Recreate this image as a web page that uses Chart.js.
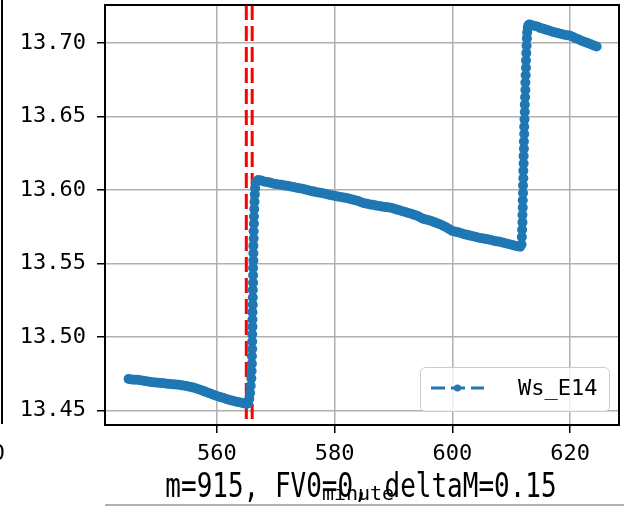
<!DOCTYPE html>
<html>
<head>
<meta charset="utf-8">
<script src="https://cdn.jsdelivr.net/npm/chart.js@4/dist/chart.umd.min.js"></script>
<style>
  html, body { margin: 0; padding: 0; background: #fff; }
  canvas { display: block; }
</style>
</head>
<body>
<canvas id="myChart" width="624" height="508"></canvas>
<script>
// minutes and Ws_E14 values
var minutes = [
  545.0, 545.5, 546.0, 546.5, 547.0, 547.5, 548.0, 548.5, 549.0, 549.5,
  550.0, 550.5, 551.0, 551.5, 552.0, 552.5, 553.0, 553.5, 554.0, 554.5,
  555.0, 555.5, 556.0, 556.5, 557.0, 557.5, 558.0, 558.5, 559.0, 559.5,
  560.0, 560.5, 561.0, 561.5, 562.0, 562.5, 563.0, 563.5, 564.0, 564.5,
  565.0,
  565.3, 565.5, 565.65, 565.75, 565.85, 565.9, 565.95, 565.95, 566.0, 566.0,
  566.0, 566.05, 566.05, 566.05, 566.1, 566.1, 566.1, 566.15, 566.15, 566.15,
  566.2, 566.2, 566.2, 566.25, 566.25, 566.3, 566.3, 566.35, 566.4, 566.45,
  566.5, 566.6,
  567.0, 567.5, 568.0, 568.5, 569.0, 569.5, 570.0, 570.5, 571.0, 571.5,
  572.0, 572.5, 573.0, 573.5, 574.0, 574.5, 575.0, 575.5, 576.0, 576.5,
  577.0, 577.5, 578.0, 578.5, 579.0, 579.5, 580.0, 580.5, 581.0, 581.5,
  582.0, 582.5, 583.0, 583.5, 584.0, 584.5, 585.0, 585.5, 586.0, 586.5,
  587.0, 587.5, 588.0, 588.5, 589.0, 589.5, 590.0, 590.5, 591.0, 591.5,
  592.0, 592.5, 593.0, 593.5, 594.0, 594.5, 595.0, 595.5, 596.0, 596.5,
  597.0, 597.5, 598.0, 598.5, 599.0, 599.5, 600.0, 600.5, 601.0, 601.5,
  602.0, 602.5, 603.0, 603.5, 604.0, 604.5, 605.0, 605.5, 606.0, 606.5,
  607.0, 607.5, 608.0, 608.5, 609.0, 609.5, 610.0, 610.5, 611.0, 611.5,
  611.75, 611.8, 611.85, 611.9, 611.9, 611.95, 611.95, 612.0, 612.0, 612.05,
  612.05, 612.1, 612.1, 612.15, 612.15, 612.2, 612.2, 612.25, 612.3, 612.3,
  612.35, 612.4, 612.4, 612.45, 612.5, 612.5, 612.55, 612.6, 612.65, 612.7,
  612.8, 612.9,
  613.1,
  613.5, 614.0, 614.5, 615.0, 615.5, 616.0, 616.5, 617.0, 617.5, 618.0,
  618.5, 619.0, 619.5, 620.0, 620.5, 621.0, 621.5, 622.0, 622.5, 623.0,
  623.5, 624.0, 624.5
];
var wsE14 = [
  13.4715, 13.4713, 13.4711, 13.4710, 13.4707, 13.4704, 13.4701, 13.4697, 13.4694, 13.4692,
  13.4690, 13.4689, 13.4687, 13.4684, 13.4682, 13.4680, 13.4678, 13.4676, 13.4673, 13.4670,
  13.4667, 13.4662, 13.4657, 13.4651, 13.4644, 13.4637, 13.4630, 13.4622, 13.4615, 13.4607,
  13.4600, 13.4594, 13.4588, 13.4581, 13.4575, 13.4570, 13.4565, 13.4560, 13.4556, 13.4551,
  13.4546,
  13.455, 13.458, 13.462, 13.467, 13.472, 13.477, 13.482, 13.487, 13.492, 13.497,
  13.502, 13.507, 13.512, 13.517, 13.522, 13.527, 13.532, 13.537, 13.542, 13.547,
  13.552, 13.557, 13.562, 13.567, 13.572, 13.577, 13.582, 13.587, 13.592, 13.597,
  13.601, 13.605,
  13.6068, 13.6064, 13.6058, 13.6054, 13.6050, 13.6044, 13.6040, 13.6038, 13.6035, 13.6031,
  13.6028, 13.6024, 13.6020, 13.6016, 13.6012, 13.6008, 13.6003, 13.5998, 13.5993, 13.5989,
  13.5985, 13.5982, 13.5978, 13.5973, 13.5968, 13.5964, 13.5960, 13.5956, 13.5952, 13.5949,
  13.5945, 13.5940, 13.5935, 13.5930, 13.5925, 13.5917, 13.5910, 13.5906, 13.5902, 13.5899,
  13.5895, 13.5891, 13.5888, 13.5885, 13.5882, 13.5879, 13.5875, 13.5868, 13.5862, 13.5856,
  13.5850, 13.5844, 13.5838, 13.5831, 13.5825, 13.5815, 13.5805, 13.5800, 13.5795, 13.5788,
  13.5780, 13.5772, 13.5765, 13.5755, 13.5745, 13.5733, 13.5722, 13.5717, 13.5712, 13.5706,
  13.5700, 13.5695, 13.5690, 13.5685, 13.5680, 13.5676, 13.5672, 13.5668, 13.5665, 13.5660,
  13.5655, 13.5651, 13.5648, 13.5643, 13.5638, 13.5633, 13.5628, 13.5623, 13.5618, 13.5614,
  13.563, 13.568, 13.573, 13.578, 13.583, 13.588, 13.593, 13.598, 13.603, 13.608,
  13.613, 13.618, 13.623, 13.628, 13.633, 13.638, 13.643, 13.648, 13.653, 13.658,
  13.663, 13.668, 13.673, 13.678, 13.683, 13.688, 13.693, 13.698, 13.703, 13.707,
  13.710, 13.712,
  13.7125,
  13.7120, 13.7115, 13.7110, 13.7100, 13.7095, 13.7088, 13.7082, 13.7075, 13.7070, 13.7065,
  13.7060, 13.7055, 13.7052, 13.7048, 13.7040, 13.7030, 13.7022, 13.7012, 13.7005, 13.6998,
  13.6990, 13.6982, 13.6975
];

var xTicks = [560, 580, 600, 620];
var yTicks = [13.45, 13.50, 13.55, 13.60, 13.65, 13.70];
var markLines = [565, 566];   // red dashed verticals
var seriesName = 'Ws_E14';
var xLabel = 'minute';
var titleText = 'm=915, FV0=0, deltaM=0.15';

var blue = '#1f77b4';
var monoFont = "'DejaVu Sans Mono', monospace";

var points = minutes.map(function (m, i) { return { x: m, y: wsE14[i] }; });

var extras = {
  id: 'extras',
  beforeDatasetsDraw: function (chart) {
    var ctx = chart.ctx, area = chart.chartArea, xs = chart.scales.x;
    ctx.save();
    ctx.strokeStyle = '#ff0000';
    ctx.lineWidth = 3;
    ctx.setLineDash([15, 6]);
    markLines.forEach(function (v) {
      var px = xs.getPixelForValue(v);
      ctx.beginPath();
      ctx.moveTo(px, area.top);
      ctx.lineTo(px, area.bottom);
      ctx.stroke();
    });
    ctx.restore();
  },
  afterDraw: function (chart) {
    var ctx = chart.ctx, area = chart.chartArea;
    ctx.save();
    // frame
    ctx.strokeStyle = '#000';
    ctx.lineWidth = 2;
    ctx.setLineDash([]);
    ctx.strokeRect(area.left, area.top, area.right - area.left, area.bottom - area.top);

    // legend
    var lx = 420, ly = 367, lw = 189, lh = 44;
    ctx.beginPath();
    ctx.roundRect(lx + 0.5, ly + 0.5, lw, lh, 5);
    ctx.fillStyle = 'rgba(255,255,255,0.8)';
    ctx.fill();
    ctx.strokeStyle = '#cccccc';
    ctx.lineWidth = 1;
    ctx.stroke();
    var sy = ly + 21;
    ctx.strokeStyle = blue;
    ctx.lineWidth = 3;
    ctx.setLineDash([14, 6]);
    ctx.beginPath();
    ctx.moveTo(431, sy);
    ctx.lineTo(484, sy);
    ctx.stroke();
    ctx.setLineDash([]);
    ctx.fillStyle = blue;
    ctx.beginPath();
    ctx.arc(457.5, sy, 3.5, 0, Math.PI * 2);
    ctx.fill();
    ctx.fillStyle = '#000';
    ctx.font = '22px ' + monoFont;
    ctx.textAlign = 'left';
    ctx.textBaseline = 'middle';
    ctx.fillText(seriesName, 518, sy + 1);

    // texts under the axis (title of the subplot below, drawn a bit taller)
    ctx.textAlign = 'center';
    ctx.textBaseline = 'alphabetic';
    ctx.save();
    ctx.translate(361, 497);
    ctx.scale(1, 1.3);
    ctx.font = '26px ' + monoFont;
    ctx.fillText(titleText, 0, 0);
    ctx.restore();
    ctx.font = '20px ' + monoFont;
    ctx.fillText(xLabel, 358, 500);

    // edges of the neighbouring subplots
    ctx.textAlign = 'right';
    ctx.font = '22px ' + monoFont;
    ctx.fillText('0', 5, 460);
    ctx.strokeStyle = '#000';
    ctx.lineWidth = 2;
    ctx.beginPath();
    ctx.moveTo(2, 0);
    ctx.lineTo(2, 424);
    ctx.stroke();
    ctx.strokeStyle = '#b0b0b0';
    ctx.beginPath();
    ctx.moveTo(105, 505);
    ctx.lineTo(624, 505);
    ctx.stroke();
    ctx.restore();
  }
};

var ctx = document.getElementById('myChart');
var myChart = new Chart(ctx, {
  type: 'scatter',
  data: {
    datasets: [{
      label: seriesName,
      data: points,
      showLine: true,
      borderColor: blue,
      backgroundColor: blue,
      borderWidth: 2.5,
      borderDash: [7, 3],
      pointRadius: 5,
      pointBorderWidth: 0,
      pointHoverRadius: 5
    }]
  },
  options: {
    responsive: false,
    animation: false,
    events: [],
    layout: { padding: { top: 3, right: 4, left: 0, bottom: 0 } },
    plugins: { legend: { display: false }, tooltip: { enabled: false } },
    scales: {
      x: {
        type: 'linear',
        min: 541.0,
        max: 628.3,
        afterFit: function (s) { s.height = 83; s.paddingLeft = 0; s.paddingRight = 0; },
        afterBuildTicks: function (s) { s.ticks = xTicks.map(function (v) { return { value: v }; }); },
        border: { display: false },
        grid: { color: '#b0b0b0', lineWidth: 1.5, tickColor: '#000', tickLength: 8, tickWidth: 1.5 },
        ticks: {
          color: '#000', padding: 8, maxRotation: 0,
          font: { family: monoFont, size: 22 },
          callback: function (v) { return String(v); }
        }
      },
      y: {
        min: 13.4403,
        max: 13.7257,
        afterFit: function (s) { s.width = 105; s.paddingTop = 0; s.paddingBottom = 0; },
        afterBuildTicks: function (s) { s.ticks = yTicks.map(function (v) { return { value: v }; }); },
        border: { display: false },
        grid: { color: '#b0b0b0', lineWidth: 1.5, tickColor: '#000', tickLength: 8, tickWidth: 1.5 },
        ticks: {
          color: '#000', padding: 11,
          font: { family: monoFont, size: 22 },
          callback: function (v) { return v.toFixed(2); }
        }
      }
    }
  },
  plugins: [extras]
});
</script>
</body>
</html>
